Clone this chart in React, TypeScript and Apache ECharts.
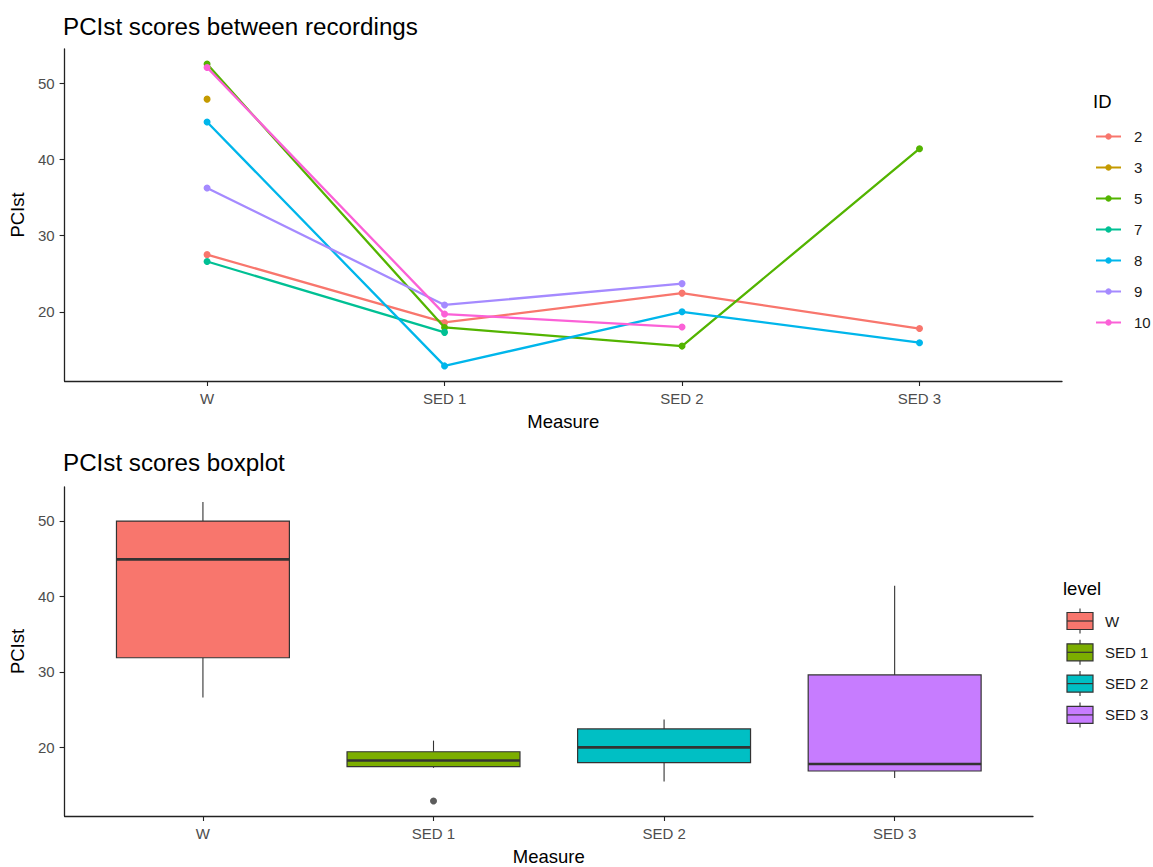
import React, { useEffect, useRef } from 'react';
import * as echarts from 'echarts';

// Measurement occasions (x categories)
const measures = ['W', 'SED 1', 'SED 2', 'SED 3'];

// PCIst per participant, one value per measure (null = not recorded)
const idLabels = ['2', '3', '5', '7', '8', '9', '10'];
const id2 = [27.5, 18.6, 22.45, 17.8];
const id3 = [47.9, null, null, null];
const id5 = [52.5, 17.95, 15.5, 41.4];
const id7 = [26.6, 17.3, null, null];
const id8 = [44.9, 12.9, 20.0, 15.95];
const id9 = [36.25, 20.9, 23.7, null];
const id10 = [52.05, 19.7, 18.0, null];

const yTicks = [20, 30, 40, 50];
const xTicks = [0, 1, 2, 3];

const idColors = ['#F8766D', '#C49A00', '#53B400', '#00C094', '#00B6EB', '#A58AFF', '#FB61D7'];
const levelColors = ['#F8766D', '#7CAE00', '#00BFC4', '#C77CFF'];

const FONT = '"Liberation Sans", Arial, sans-serif';
const TICK_COLOR = '#4D4D4D';
const AXIS_COLOR = '#222222';

const idSeries = [id2, id3, id5, id7, id8, id9, id10];

// R-style (type 7) quantile on a sorted array
function quantile(sorted: number[], p: number): number {
  const h = (sorted.length - 1) * p;
  const lo = Math.floor(h);
  const hi = Math.ceil(h);
  return sorted[lo] + (h - lo) * (sorted[hi] - sorted[lo]);
}

function boxStats() {
  const boxes: number[][] = [];
  const outliers: number[][] = [];
  measures.forEach((_, mi) => {
    const vals = idSeries
      .map((s) => s[mi])
      .filter((v): v is number => v !== null && v !== undefined)
      .sort((a, b) => a - b);
    const q1 = quantile(vals, 0.25);
    const med = quantile(vals, 0.5);
    const q3 = quantile(vals, 0.75);
    const iqr = q3 - q1;
    const lowFence = q1 - 1.5 * iqr;
    const highFence = q3 + 1.5 * iqr;
    const inside = vals.filter((v) => v >= lowFence && v <= highFence);
    vals.filter((v) => v < lowFence || v > highFence).forEach((v) => outliers.push([mi, v]));
    boxes.push([mi, Math.min(...inside), q1, med, q3, Math.max(...inside)]);
  });
  return { boxes, outliers };
}

export default function App() {
  const ref = useRef<HTMLDivElement>(null);

  useEffect(() => {
    if (!ref.current) return;
    const chart = echarts.init(ref.current, undefined, { renderer: 'svg' });

    const allVals = idSeries.flat().filter((v): v is number => v !== null);
    const vMin = Math.min(...allVals);
    const vMax = Math.max(...allVals);
    const pad = (vMax - vMin) * 0.05;
    const yMin = vMin - pad;
    const yMax = vMax + pad;

    const { boxes, outliers } = boxStats();

    const xAxisBase = (gridIndex: number) => ({
      type: 'value' as const,
      gridIndex,
      min: -0.6,
      max: 3.6,
      name: 'Measure',
      nameLocation: 'middle' as const,
      nameGap: 31,
      nameTextStyle: { fontFamily: FONT, fontSize: 18.5, color: '#000' },
      axisLine: { show: true, onZero: false, lineStyle: { color: AXIS_COLOR, width: 1.3 } },
      axisTick: { show: true, length: 5, customValues: xTicks, lineStyle: { color: AXIS_COLOR, width: 1.1 } },
      axisLabel: {
        customValues: xTicks,
        formatter: (v: number) => measures[Math.round(v)],
        fontFamily: FONT,
        fontSize: 15,
        color: TICK_COLOR,
        margin: 10,
      },
      splitLine: { show: false },
    });

    const yAxisBase = (gridIndex: number) => ({
      type: 'value' as const,
      gridIndex,
      min: yMin,
      max: yMax,
      name: 'PCIst',
      nameLocation: 'middle' as const,
      nameRotate: 90,
      nameGap: 32,
      nameTextStyle: { fontFamily: FONT, fontSize: 18.5, color: '#000' },
      axisLine: { show: true, onZero: false, lineStyle: { color: AXIS_COLOR, width: 1.3 } },
      axisTick: { show: true, length: 5, customValues: yTicks, lineStyle: { color: AXIS_COLOR, width: 1.1 } },
      axisLabel: {
        customValues: yTicks,
        fontFamily: FONT,
        fontSize: 15,
        color: TICK_COLOR,
        margin: 10,
      },
      splitLine: { show: false },
    });

    const lineSeries = idSeries.map((vals, i) => ({
      type: 'line' as const,
      name: idLabels[i],
      xAxisIndex: 0,
      yAxisIndex: 0,
      data: vals.map((v, mi) => [mi, v]),
      connectNulls: false,
      symbol: 'circle',
      symbolSize: 7,
      showSymbol: true,
      color: idColors[i],
      lineStyle: { width: 2.3, color: idColors[i] },
      itemStyle: { color: idColors[i] },
      emphasis: { disabled: true },
      z: 2 + i,
    }));

    const halfW = 0.375;

    const boxSeries = {
      type: 'custom' as const,
      name: 'boxes',
      xAxisIndex: 1,
      yAxisIndex: 1,
      encode: { x: 0, y: [1, 2, 3, 4, 5] },
      data: boxes,
      renderItem: (params: any, api: any) => {
        const x = api.value(0);
        const lo = api.value(1);
        const q1 = api.value(2);
        const med = api.value(3);
        const q3 = api.value(4);
        const hi = api.value(5);
        const pTL = api.coord([x - halfW, q3]);
        const pBR = api.coord([x + halfW, q1]);
        const cx = api.coord([x, med])[0];
        const yMed = api.coord([x, med])[1];
        const yLo = api.coord([x, lo])[1];
        const yHi = api.coord([x, hi])[1];
        const color = levelColors[params.dataIndex];
        const stroke = { stroke: '#333333', lineWidth: 1.1 };
        return {
          type: 'group',
          children: [
            { type: 'line', shape: { x1: cx, y1: yHi, x2: cx, y2: pTL[1] }, style: stroke },
            { type: 'line', shape: { x1: cx, y1: pBR[1], x2: cx, y2: yLo }, style: stroke },
            {
              type: 'rect',
              shape: { x: pTL[0], y: pTL[1], width: pBR[0] - pTL[0], height: pBR[1] - pTL[1] },
              style: { fill: color, stroke: '#333333', lineWidth: 1.2 },
            },
            {
              type: 'line',
              shape: { x1: pTL[0], y1: yMed, x2: pBR[0], y2: yMed },
              style: { stroke: '#333333', lineWidth: 2.6 },
            },
          ],
        };
      },
      z: 2,
    };

    const outlierSeries = {
      type: 'scatter' as const,
      name: 'outliers',
      xAxisIndex: 1,
      yAxisIndex: 1,
      data: outliers,
      symbol: 'circle',
      symbolSize: 7,
      itemStyle: { color: '#333333' },
      emphasis: { disabled: true },
      z: 3,
    };

    // legend keys for the boxplot levels
    const levelLegend: any[] = [];
    levelLegend.push({
      type: 'text',
      left: 1063,
      top: 579,
      style: { text: 'level', font: `18.5px ${FONT}`, fill: '#000' },
    });
    measures.forEach((m, i) => {
      const cy = 621 + i * 31.3;
      levelLegend.push(
        { type: 'line', shape: { x1: 1080, y1: cy - 12.5, x2: 1080, y2: cy + 12.5 }, style: { stroke: '#333333', lineWidth: 1.1 } },
        { type: 'rect', shape: { x: 1067, y: cy - 8.5, width: 26, height: 17 }, style: { fill: levelColors[i], stroke: '#333333', lineWidth: 1.2 } },
        { type: 'line', shape: { x1: 1067, y1: cy, x2: 1093, y2: cy }, style: { stroke: '#333333', lineWidth: 1.2 } },
        { type: 'text', x: 1105, y: cy, style: { text: m, font: `15px ${FONT}`, fill: '#1A1A1A', textVerticalAlign: 'middle' } },
      );
    });

    chart.setOption({
      animation: false,
      backgroundColor: '#FFFFFF',
      textStyle: { fontFamily: FONT },
      title: [
        {
          text: 'PCIst scores between recordings',
          left: 63,
          top: 14,
          padding: 0,
          textStyle: { fontFamily: FONT, fontSize: 24.2, fontWeight: 'normal', color: '#000' },
        },
        {
          text: 'PCIst scores boxplot',
          left: 63,
          top: 450,
          padding: 0,
          textStyle: { fontFamily: FONT, fontSize: 24.2, fontWeight: 'normal', color: '#000' },
        },
      ],
      legend: {
        data: idLabels,
        orient: 'vertical',
        left: 1095,
        top: 129,
        padding: 0,
        itemWidth: 25,
        itemHeight: 8,
        itemGap: 16,
        selectedMode: false,
        textStyle: { fontFamily: FONT, fontSize: 15, color: '#1A1A1A', padding: [0, 0, 0, 8] },
      },
      grid: [
        { left: 63, right: 91, top: 49, height: 332, containLabel: false },
        { left: 63, right: 120, top: 487, height: 332, containLabel: false },
      ],
      xAxis: [xAxisBase(0), xAxisBase(1)],
      yAxis: [yAxisBase(0), yAxisBase(1)],
      graphic: [
        {
          type: 'text',
          left: 1093,
          top: 92,
          style: { text: 'ID', font: `18.5px ${FONT}`, fill: '#000' },
        },
        ...levelLegend,
      ],
      series: [...lineSeries, boxSeries, outlierSeries],
    });

    return () => chart.dispose();
  }, []);

  return (
    <div
      ref={ref}
      style={{ position: 'fixed', left: 0, top: 0, width: 1153, height: 867, background: '#fff' }}
    />
  );
}
